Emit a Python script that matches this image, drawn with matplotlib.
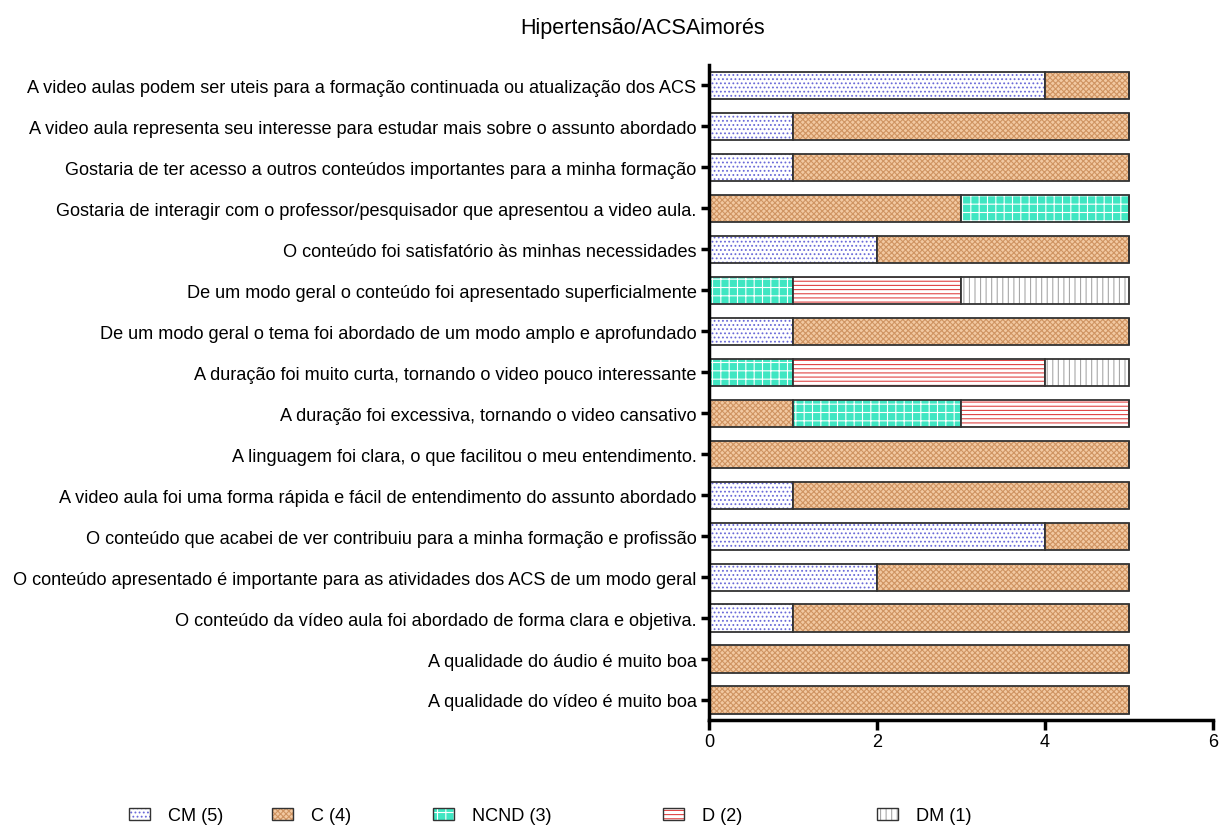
import matplotlib
matplotlib.use("Agg")
import matplotlib.pyplot as plt
from matplotlib.patches import Patch
from matplotlib.legend_handler import HandlerTuple
import numpy as np

plt.rcParams['font.family'] = ['Liberation Sans', 'DejaVu Sans']
plt.rcParams['hatch.linewidth'] = 0.8

title = "Hipertensão/ACSAimorés"
categories = [
    "A video aulas podem ser uteis para a formação continuada ou atualização dos ACS",
    "A video aula representa seu interesse para estudar mais sobre o assunto abordado",
    "Gostaria de ter acesso a outros conteúdos importantes para a minha formação",
    "Gostaria de interagir com o professor/pesquisador que apresentou a video aula.",
    "O conteúdo foi satisfatório às minhas necessidades",
    "De um modo geral o conteúdo foi apresentado superficialmente",
    "De um modo geral o tema foi abordado de um modo amplo e aprofundado",
    "A duração foi muito curta, tornando o video pouco interessante",
    "A duração foi excessiva, tornando o video cansativo",
    "A linguagem foi clara, o que facilitou o meu entendimento.",
    "A video aula foi uma forma rápida e fácil de entendimento do assunto abordado",
    "O conteúdo que acabei de ver contribuiu para a minha formação e profissão",
    "O conteúdo apresentado é importante para as atividades dos ACS de um modo geral",
    "O conteúdo da vídeo aula foi abordado de forma clara e objetiva.",
    "A qualidade do áudio é muito boa",
    "A qualidade do vídeo é muito boa",
]
series_names = ["CM (5)", "C (4)", "NCND (3)", "D (2)", "DM (1)"]
cm   = [4, 1, 1, 0, 2, 0, 1, 0, 0, 0, 1, 4, 2, 1, 0, 0]
c    = [1, 4, 4, 3, 3, 0, 4, 0, 1, 5, 4, 1, 3, 4, 5, 5]
ncnd = [0, 0, 0, 2, 0, 1, 0, 1, 2, 0, 0, 0, 0, 0, 0, 0]
d    = [0, 0, 0, 0, 0, 2, 0, 3, 2, 0, 0, 0, 0, 0, 0, 0]
dm   = [0, 0, 0, 0, 0, 2, 0, 1, 0, 0, 0, 0, 0, 0, 0, 0]
series = [cm, c, ncnd, d, dm]

styles = [
    dict(face="white", hatch="....", hcolor="#6a6ad8"),
    dict(face="#f2c9a2", hatch="xxxxxx", hcolor="#cf9462"),
    dict(face="#3fe6c2", hatch="++", hcolor="white"),
    dict(face="white", hatch="----", hcolor="#e04545"),
    dict(face="white", hatch="|||", hcolor="#a8a8a8"),
]

fig = plt.figure(figsize=(12.19, 8.29), dpi=100)
ax = fig.add_axes([0.5817, 0.1297, 0.4134, 0.791])

n = len(categories)
y = np.arange(n)[::-1]
left = np.zeros(n)
h = 0.66
for vals, st in zip(series, styles):
    vals = np.array(vals, dtype=float)
    ax.barh(y, vals, left=left, height=h, color=st["face"], hatch=st["hatch"],
            edgecolor=st["hcolor"], linewidth=0)
    ax.barh(y, vals, left=left, height=h, fill=False, edgecolor="#333333", linewidth=1.3)
    left += vals

fs = 13.1
ax.set_xlim(0, 6)
ax.set_ylim(-0.5, n - 0.5)
ax.set_xticks([0, 2, 4, 6])
ax.set_yticks(y)
ax.set_yticklabels(categories, fontsize=fs)
ax.tick_params(axis='x', labelsize=fs, width=2.5, length=7, direction='out', pad=2)
ax.tick_params(axis='y', width=2.5, length=6, direction='out', pad=3)
for s in ["top", "right"]:
    ax.spines[s].set_visible(False)
for s in ["left", "bottom"]:
    ax.spines[s].set_linewidth(2.5)

fig.text(0.527, 0.966, title, fontsize=15.5, ha="center", va="center")

xs = [0.1058, 0.2231, 0.3552, 0.5439, 0.7194]
for name, st, xpos in zip(series_names, styles, xs):
    p1 = Patch(facecolor=st["face"], hatch=st["hatch"], edgecolor=st["hcolor"], linewidth=0)
    p2 = Patch(fill=False, edgecolor="#333333", linewidth=1.0)
    fig.legend([(p1, p2)], [name], handler_map={tuple: HandlerTuple(ndivide=1)},
               loc="center left", bbox_to_anchor=(xpos, 0.0145), frameon=False,
               fontsize=fs, handlelength=1.15, handleheight=0.6, handletextpad=1.0,
               borderpad=0, borderaxespad=0)

fig.savefig("out.png", dpi=100)
